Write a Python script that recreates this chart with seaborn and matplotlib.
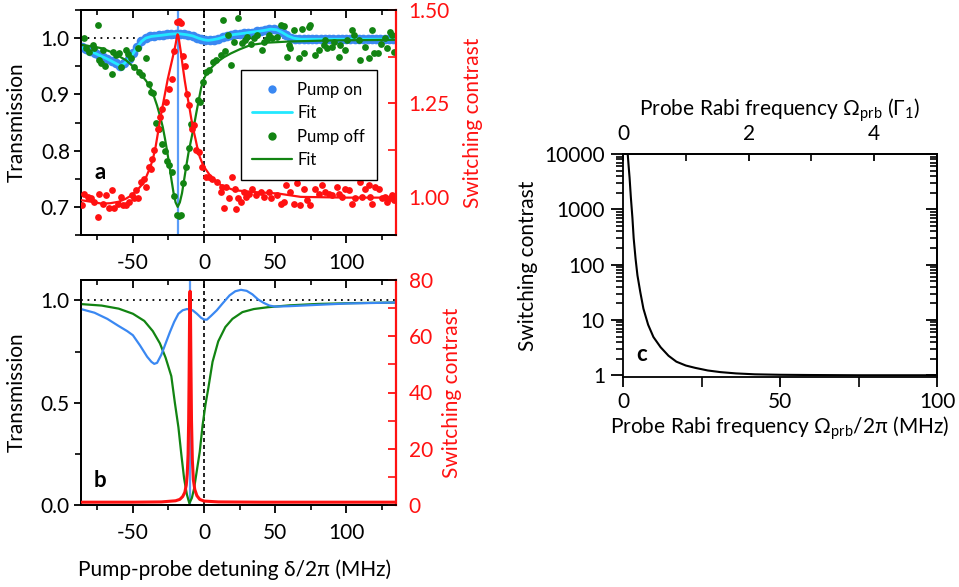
import matplotlib
matplotlib.use("Agg")
import matplotlib.pyplot as plt
import seaborn as sns
from matplotlib.lines import Line2D
from matplotlib.ticker import (MultipleLocator, LogLocator, FuncFormatter,
                               NullFormatter, FormatStrFormatter, FixedLocator)

# ---------------- measured data (panel a) ----------------
# Pump on: transmission points and fit
on_x = [-86, -83, -80, -77, -74, -71, -68, -65, -62, -59, -56, -53, -50, -47, -44,
        -41, -38, -35, -32, -29, -26, -23, -20, -17, -14, -11, -8, -5, -2, 1, 4, 7,
        10, 13, 16, 19, 22, 25, 28, 31, 34, 37, 40, 43, 46, 49, 52, 55, 58, 61, 64,
        67, 70, 73, 76, 79, 82, 85, 88, 91, 94, 97, 100, 103, 106, 109, 112, 115,
        118, 121, 124, 127, 130, 133]
on_t = [0.984, 0.980, 0.978, 0.973, 0.970, 0.966, 0.963, 0.959, 0.955, 0.951, 0.956,
        0.963, 0.973, 0.985, 0.995, 1.000, 1.003, 1.004, 1.006, 1.006, 1.007, 1.008,
        1.008, 1.008, 1.007, 1.005, 1.003, 1.000, 0.998, 0.996, 0.996, 0.997, 0.999,
        1.002, 1.004, 1.006, 1.007, 1.008, 1.009, 1.010, 1.010, 1.012, 1.013, 1.014,
        1.016, 1.016, 1.015, 1.011, 1.005, 1.001, 0.999, 0.998, 0.999, 0.998, 0.998,
        0.999, 0.998, 0.998, 0.999, 0.998, 0.998, 0.999, 0.998, 0.998, 0.999, 0.998,
        0.998, 0.999, 0.998, 0.998, 0.999, 0.998, 0.998, 0.999]
on_fit_x = [-86, -80, -74, -68, -62, -59, -56, -53, -50, -47, -44, -41, -37, -30, -24,
            -18, -12, -8, -4, 0, 3, 6, 10, 15, 20, 26, 32, 38, 43, 47, 51, 55, 59, 63,
            68, 80, 100, 135]
on_fit_t = [0.983, 0.977, 0.970, 0.963, 0.955, 0.951, 0.955, 0.962, 0.972, 0.984,
            0.994, 1.000, 1.003, 1.005, 1.007, 1.008, 1.006, 1.004, 1.000, 0.997,
            0.996, 0.997, 0.999, 1.003, 1.006, 1.008, 1.010, 1.012, 1.014, 1.016,
            1.015, 1.010, 1.004, 1.000, 0.998, 0.998, 0.998, 0.998]

# Pump off: transmission points and fit
off_x = [-84.5, -83.0, -81.1, -78.3, -77.1, -74.8, -73.6, -72.5, -70.8, -69.4,
         -65.0, -64.3, -61.9, -59.6, -58.4, -54.9, -53.1, -51.4, -49.1, -46.6,
         -45.6, -43.3, -41.0, -38.6, -37.4, -35.8, -33.6, -31.5, -29.5, -27.5,
         -26.0, -24.3, -22.6, -21.0, -18.9, -17.8, -16.3, -15.0, -12.6, -10.7,
         -9.1, -8.3, -4.4, -3.0, -0.9, 1.4, 3.7, 6.1, 8.4, 11.7,
         13.0, 14.5, 16.6, 19.2, 21.0, 24.0, 26.9, 28.5, 30.4, 33.0,
         35.1, 37.5, 40.9, 42.1, 44.5, 46.0, 47.9, 51.4, 53.8, 56.1,
         58.4, 59.6, 60.8, 63.1, 66.6, 68.9, 70.1, 73.6, 74.8, 78.3,
         80.6, 84.2, 85.3, 86.5, 90.0, 91.2, 94.7, 95.9, 99.4, 100.5,
         104.0, 105.2, 108.7, 109.9, 113.0, 115.7, 118.0, 119.2, 122.2, 124.5,
         127.4, 129.0, 130.9, 132.1, 133.5]
off_t = [1.001, 0.982, 0.976, 0.988, 0.983, 1.023, 0.961, 0.955, 0.979, 0.950,
         0.936, 0.976, 0.970, 0.973, 0.949, 0.979, 0.971, 0.964, 0.949, 0.982,
         0.940, 0.934, 0.964, 0.918, 0.905, 0.902, 0.850, 0.838, 0.812, 0.800,
         0.781, 0.774, 0.762, 0.720, 0.686, 0.684, 0.686, 0.742, 0.771, 0.804,
         0.848, 0.843, 0.890, 0.886, 0.922, 0.940, 0.943, 0.958, 0.961, 0.970,
         1.032, 0.977, 1.005, 0.952, 0.993, 1.036, 0.991, 0.996, 1.002, 0.990,
         1.000, 1.005, 0.979, 0.993, 0.998, 1.006, 1.000, 1.002, 1.023, 1.021,
         0.967, 0.988, 0.982, 1.014, 0.964, 1.017, 0.973, 1.020, 1.023, 0.970,
         0.979, 0.988, 0.996, 0.982, 0.985, 0.993, 0.967, 0.988, 0.979, 0.996,
         1.014, 1.005, 0.996, 0.961, 0.985, 0.964, 1.014, 0.973, 0.973, 0.990,
         1.000, 0.982, 1.011, 1.005, 0.976]
off_fit_x = [-86, -78, -72, -66, -60, -55, -51, -47, -44, -41, -38, -35, -33, -31,
             -29, -27.5, -26, -24.5, -23, -21.5, -20, -18.5, -17, -15.5, -14, -12.5,
             -11, -9, -7, -5.5, -4, -2, 0, 2.5, 5, 9.5, 14, 19, 25, 33, 45, 60, 90,
             135]
off_fit_t = [0.988, 0.985, 0.982, 0.976, 0.968, 0.961, 0.952, 0.944, 0.934, 0.925,
             0.914, 0.895, 0.880, 0.862, 0.842, 0.822, 0.800, 0.776, 0.750, 0.726,
             0.708, 0.700, 0.708, 0.724, 0.748, 0.772, 0.795, 0.820, 0.845, 0.866,
             0.886, 0.912, 0.928, 0.940, 0.947, 0.958, 0.966, 0.973, 0.980, 0.988,
             0.992, 0.994, 0.996, 0.997]

# Switching contrast: points and fit
con_x = [-85.5, -84.1, -81.8, -79.5, -77.1, -74.8, -73.6, -71.3, -69.0, -66.6,
         -64.7, -63.1, -60.8, -58.4, -57.3, -54.9, -52.6, -50.7, -49.1, -47.9,
         -46.1, -44.4, -42.1, -40.9, -38.6, -37.5, -36.3, -35.1, -32.7, -31.0,
         -29.2, -26.9, -24.5, -22.7, -21.0, -18.7, -17.5, -16.3, -14.7, -13.3,
         -11.7, -10.5, -8.6, -7.0, -5.4, -3.5, -1.2, 1.2, 3.5, 5.8,
         9.3, 11.7, 12.8, 14.0, 15.2, 17.5, 19.4, 21.7, 22.8, 23.6,
         25.7, 28.0, 29.2, 31.6, 33.9, 36.3, 39.8, 42.1, 45.6, 46.8,
         51.4, 53.8, 56.1, 57.3, 60.8, 63.1, 65.4, 67.8, 70.1, 72.4,
         74.8, 78.3, 80.6, 83.0, 85.3, 87.7, 90.0, 93.5, 94.7, 97.0,
         99.4, 101.7, 104.0, 106.4, 109.9, 111.1, 113.4, 115.7, 116.9, 118.0,
         120.4, 122.7, 125.0, 127.4, 128.5, 130.9, 132.1, 133.3]
con_c = [0.978, 1.009, 1.000, 0.996, 0.987, 0.947, 1.009, 0.982, 1.004, 0.969,
         1.018, 0.969, 0.982, 1.000, 0.978, 0.978, 0.987, 1.004, 0.996, 1.018,
         0.996, 1.040, 1.049, 1.027, 1.080, 1.075, 1.102, 1.125, 1.182, 1.215,
         1.236, 1.253, 1.289, 1.316, 1.391, 1.467, 1.470, 1.465, 1.378, 1.351,
         1.276, 1.245, 1.182, 1.191, 1.125, 1.120, 1.080, 1.053, 1.053, 1.049,
         1.040, 1.013, 1.027, 0.969, 1.027, 0.996, 1.053, 1.022, 0.968, 0.996,
         0.987, 1.013, 1.000, 1.009, 1.022, 1.004, 1.013, 1.000, 1.013, 0.996,
         1.004, 0.982, 0.987, 1.031, 1.013, 0.982, 1.036, 0.978, 1.022, 0.991,
         0.978, 1.022, 1.009, 1.031, 1.013, 1.009, 1.004, 1.027, 1.009, 1.000,
         1.022, 1.018, 0.982, 0.996, 1.040, 1.000, 1.022, 1.031, 1.000, 0.982,
         1.027, 1.022, 0.996, 1.000, 0.987, 0.996, 1.004, 0.991]
con_fit_x = [-86, -78, -72, -66, -60, -55, -51, -47, -44, -41, -38, -36, -34, -32,
             -30, -28.5, -27, -25.5, -24, -22.5, -21, -20, -19.2, -18.6, -18, -17,
             -16, -15, -13.5, -12, -10.5, -9, -7.5, -6, -4.5, -3, -1, 1, 5, 12, 21,
             35, 52, 68, 100, 135]
con_fit_c = [0.991, 0.986, 0.982, 0.983, 0.987, 0.995, 1.004, 1.018, 1.031, 1.050,
             1.078, 1.100, 1.135, 1.180, 1.225, 1.255, 1.285, 1.315, 1.340, 1.365,
             1.390, 1.408, 1.425, 1.435, 1.430, 1.405, 1.380, 1.350, 1.310, 1.275,
             1.245, 1.210, 1.180, 1.155, 1.128, 1.107, 1.088, 1.075, 1.053, 1.031,
             1.018, 1.013, 1.009, 1.000, 0.998, 0.998]
pump_a = -18.0   # pump-probe detuning marked in panel a (MHz)

# ---------------- model curves (panel b) ----------------
b_on_x = [-86, -77, -68, -60, -54, -50, -45, -40, -37, -35, -33, -30, -27, -24, -21,
          -18, -15, -12, -10, -8, -5, -2, 0, 2, 5, 9, 13, 18, 22, 26, 30, 34, 38,
          42, 46, 50, 60, 75, 100, 135]
b_on_t = [0.957, 0.940, 0.910, 0.875, 0.850, 0.830, 0.780, 0.725, 0.700, 0.690,
          0.695, 0.735, 0.790, 0.845, 0.895, 0.935, 0.952, 0.958, 0.956, 0.952,
          0.935, 0.915, 0.907, 0.906, 0.925, 0.952, 0.985, 1.025, 1.045, 1.052,
          1.047, 1.030, 1.005, 0.988, 0.975, 0.970, 0.972, 0.977, 0.985, 0.990]
b_off_x = [-86, -72, -60, -50, -42, -36, -31, -27, -23, -20.5, -18, -16, -14, -12,
           -10.3, -8.5, -7, -5, -3, -1, 1, 3, 6, 10, 15, 20, 27, 35, 45, 60, 80,
           105, 135]
b_off_t = [0.982, 0.975, 0.960, 0.935, 0.900, 0.850, 0.790, 0.720, 0.630, 0.500,
           0.380, 0.250, 0.130, 0.050, 0.008, 0.035, 0.080, 0.170, 0.260, 0.390,
           0.490, 0.570, 0.700, 0.800, 0.870, 0.910, 0.943, 0.958, 0.967, 0.976,
           0.983, 0.987, 0.990]
b_con_x = [-86, -50, -30, -20, -17, -15, -13.5, -12.5, -11.8, -11.2, -10.8, -10.5,
           -10.2, -10.0, -9.8, -9.5, -9.2, -8.8, -8.2, -7.5, -6.5, -5, -3, 0, 10,
           40, 135]
b_con_c = [1.0, 1.0, 1.1, 1.5, 2.0, 3.0, 4.5, 7.0, 11, 18, 30, 45, 64, 74, 76, 68,
           50, 30, 16, 9.0, 5.5, 3.3, 2.0, 1.4, 1.1, 1.0, 1.0]
pump_b = -10.0

# ---------------- contrast vs probe Rabi frequency (panel c) ----------------
c_omega = [1.2, 1.5, 1.8, 2.1, 2.5, 3.0, 3.4, 4.0, 4.6, 5.5, 6.5, 8.0, 9.7, 12,
           14.5, 17, 20, 23, 27, 31, 36, 42, 50, 60, 75, 100]
c_contrast = [25000, 10000, 6000, 3700, 1650, 700, 300, 128, 64, 32, 16, 8.2, 4.9,
              3.2, 2.25, 1.76, 1.5, 1.36, 1.22, 1.14, 1.08, 1.04, 1.02, 1.01, 1.0, 1.0]
gamma1 = 20.0  # Gamma_1 / 2pi in MHz
gamma_ticks = [0, 2, 4]
gamma_minor = [1, 3, 5]

# ---------------- style ----------------
GREEN = "#128412"
RED = "#ff1111"
BLUE = "#3a88f2"
CYAN = "#22e8ff"
PUMP_LINE = "#5a9cf8"
FS = 15

sns.set_theme(style="ticks")
plt.rcParams.update({
    "font.family": ["Lato", "DejaVu Sans"],
    "mathtext.fontset": "custom",
    "mathtext.rm": "Lato",
    "mathtext.it": "Lato:italic",
    "mathtext.bf": "Lato:bold",
    "axes.unicode_minus": False,
    "axes.edgecolor": "black",
    "axes.labelcolor": "black",
    "text.color": "black",
    "xtick.color": "black",
    "ytick.color": "black",
    "axes.linewidth": 1.3,
    "xtick.major.width": 1.3, "ytick.major.width": 1.3,
    "xtick.minor.width": 1.2, "ytick.minor.width": 1.2,
    "font.size": FS, "axes.labelsize": FS,
    "xtick.labelsize": FS, "ytick.labelsize": FS,
})

W, H = 959, 587
fig = plt.figure(figsize=(W / 100, H / 100), dpi=100)


def rect(l, t, r, b):
    return [l / W, 1 - b / H, (r - l) / W, (b - t) / H]


ax_a = fig.add_axes(rect(81, 10, 396, 235))
ax_b = fig.add_axes(rect(81, 280, 396, 505))
ax_c = fig.add_axes(rect(623, 154, 937, 377))


def detuning_frame(ax, ylo, yhi, ymaj, ymin, yfmt):
    ax.set_xlim(-86.5, 135)
    ax.set_ylim(ylo, yhi)
    ax.xaxis.set_major_locator(MultipleLocator(50))
    ax.xaxis.set_minor_locator(MultipleLocator(25))
    ax.yaxis.set_major_locator(MultipleLocator(ymaj))
    ax.yaxis.set_minor_locator(MultipleLocator(ymin))
    ax.yaxis.set_major_formatter(FormatStrFormatter(yfmt))
    ax.tick_params(axis="x", which="both", direction="out", bottom=True, top=False)
    ax.tick_params(axis="x", which="major", length=6, pad=7)
    ax.tick_params(axis="x", which="minor", length=3.5)
    ax.tick_params(axis="y", which="both", direction="out", left=True, right=False)
    ax.tick_params(axis="y", which="major", length=5, pad=3)
    ax.tick_params(axis="y", which="minor", length=4)
    ax.spines["right"].set_visible(False)
    top = ax.secondary_xaxis("top")
    top.xaxis.set_major_locator(MultipleLocator(50))
    top.xaxis.set_minor_locator(MultipleLocator(25))
    top.xaxis.set_major_formatter(NullFormatter())
    top.tick_params(axis="x", which="both", direction="in")
    top.tick_params(axis="x", which="major", length=6)
    top.tick_params(axis="x", which="minor", length=3.5)
    ax.axhline(1.0, color="black", ls=(0, (1, 2.6)), lw=1.3, zorder=1)
    ax.axvline(0.0, color="black", ls=(0, (2.4, 1.8)), lw=1.2, zorder=1)
    ax.set_ylabel("Transmission", va="center")
    ax.yaxis.set_label_coords(-0.203, 0.5)


def contrast_twin(ax, ylo, yhi, ymaj, ymin, yfmt, xlab):
    tw = ax.twinx()
    tw.set_ylim(ylo, yhi)
    tw.yaxis.set_major_locator(MultipleLocator(ymaj))
    tw.yaxis.set_minor_locator(MultipleLocator(ymin))
    tw.yaxis.set_major_formatter(FormatStrFormatter(yfmt))
    tw.spines["right"].set_color(RED)
    tw.spines["right"].set_linewidth(1.6)
    tw.tick_params(axis="y", which="both", direction="in", colors=RED, right=True)
    tw.tick_params(axis="y", which="major", length=6, pad=9)
    tw.tick_params(axis="y", which="minor", length=6)
    tw.set_ylabel("Switching contrast", color=RED, va="center", rotation=90)
    tw.yaxis.set_label_coords(xlab, 0.5)
    return tw


# ---------------- panel a ----------------
detuning_frame(ax_a, 0.65, 1.05, 0.1, 0.05, "%.1f")
ax_a.axvline(pump_a, color=PUMP_LINE, lw=1.6, zorder=1.5)
sns.scatterplot(x=on_x, y=on_t, ax=ax_a, color=BLUE, s=48, linewidth=0,
                zorder=3, legend=False)
sns.lineplot(x=on_fit_x, y=on_fit_t, ax=ax_a, color=CYAN, lw=2.0, zorder=4)
sns.scatterplot(x=off_x, y=off_t, ax=ax_a, color=GREEN, s=24, linewidth=0,
                zorder=5, legend=False)
sns.lineplot(x=off_fit_x, y=off_fit_t, ax=ax_a, color=GREEN, lw=1.6, zorder=6)
ax_a.set_xlabel("")
ax_a.text(0.06, 0.276, "a", transform=ax_a.transAxes, fontsize=16,
          fontweight="bold", ha="center", va="center")

ax_a2 = contrast_twin(ax_a, 0.898, 1.50, 0.25, 0.125, "%.2f", 1.244)
sns.scatterplot(x=con_x, y=con_c, ax=ax_a2, color=RED, s=24, linewidth=0,
                zorder=3, legend=False)
sns.lineplot(x=con_fit_x, y=con_fit_c, ax=ax_a2, color=RED, lw=1.6, zorder=4)

handles = [
    Line2D([], [], ls="none", marker="o", markersize=6, color=BLUE, mew=0),
    Line2D([], [], color=CYAN, lw=2.0),
    Line2D([], [], ls="none", marker="o", markersize=6, color=GREEN, mew=0),
    Line2D([], [], color=GREEN, lw=1.6),
]
leg = ax_a2.legend(handles, ["Pump on", "Fit", "Pump off", "Fit"],
                   loc="upper left", bbox_to_anchor=(0.507, 0.733),
                   borderaxespad=0, fontsize=12, handlelength=2.4,
                   handletextpad=0.3, labelspacing=0.45, borderpad=0.7,
                   frameon=True, fancybox=False, framealpha=1,
                   edgecolor="black")
leg.get_frame().set_linewidth(1.0)

# ---------------- panel b ----------------
detuning_frame(ax_b, 0.0, 1.1, 0.5, 0.25, "%.1f")
ax_b.axvline(pump_b, color=PUMP_LINE, lw=1.6, zorder=1.5)
sns.lineplot(x=b_off_x, y=b_off_t, ax=ax_b, color=GREEN, lw=1.6, zorder=3)
sns.lineplot(x=b_on_x, y=b_on_t, ax=ax_b, color=BLUE, lw=1.6, zorder=4)
ax_b.set_xlabel("Pump-probe detuning δ/2π (MHz)", va="center")
ax_b.xaxis.set_label_coords(0.487, -0.289)
ax_b.text(0.06, 0.111, "b", transform=ax_b.transAxes, fontsize=16,
          fontweight="bold", ha="center", va="center")

ax_b2 = contrast_twin(ax_b, 0, 80, 20, 10, "%d", 1.178)
sns.lineplot(x=b_con_x, y=b_con_c, ax=ax_b2, color=RED, lw=2.2, zorder=4)

# ---------------- panel c ----------------
ax_c.set_yscale("log")
sns.lineplot(x=c_omega, y=c_contrast, ax=ax_c, color="black", lw=1.5)
ax_c.set_xlim(0, 100)
ax_c.set_ylim(0.93, 10000)
ax_c.xaxis.set_major_locator(MultipleLocator(50))
ax_c.xaxis.set_minor_locator(MultipleLocator(25))
ax_c.tick_params(axis="x", which="both", direction="out", length=7, pad=4,
                 bottom=True, top=False)
ax_c.yaxis.set_major_locator(LogLocator(base=10, numticks=10))
ax_c.yaxis.set_minor_locator(LogLocator(base=10, subs=range(2, 10), numticks=20))
ax_c.yaxis.set_major_formatter(FuncFormatter(lambda v, p: f"{v:g}"))
ax_c.yaxis.set_minor_formatter(NullFormatter())
ax_c.tick_params(axis="y", which="major", direction="out", length=9, pad=4,
                 left=True, right=False)
ax_c.tick_params(axis="y", which="minor", direction="out", length=5,
                 left=True, right=False)

right = ax_c.secondary_yaxis("right")
right.yaxis.set_major_locator(LogLocator(base=10, numticks=10))
right.yaxis.set_minor_locator(LogLocator(base=10, subs=range(2, 10), numticks=20))
right.yaxis.set_major_formatter(NullFormatter())
right.yaxis.set_minor_formatter(NullFormatter())
right.tick_params(axis="y", which="major", direction="in", length=8)
right.tick_params(axis="y", which="minor", direction="in", length=5)

top_c = ax_c.secondary_xaxis("top", functions=(lambda x: x / gamma1,
                                                lambda g: g * gamma1))
top_c.xaxis.set_major_locator(FixedLocator(gamma_ticks))
top_c.xaxis.set_minor_locator(FixedLocator(gamma_minor))
top_c.xaxis.set_major_formatter(FuncFormatter(lambda v, p: f"{v:g}"))
top_c.tick_params(axis="x", which="both", direction="in", length=5, pad=7)
top_c.set_xlabel("Probe Rabi frequency Ω$_{\\mathrm{prb}}$ (Γ$_{1}$)", labelpad=6)

ax_c.set_xlabel("Probe Rabi frequency Ω$_{\\mathrm{prb}}$/2π (MHz)", va="center")
ax_c.xaxis.set_label_coords(0.5, -0.229)
ax_c.set_ylabel("Switching contrast", va="center")
ax_c.yaxis.set_label_coords(-0.3025, 0.5)
ax_c.text(0.06, 0.099, "c", transform=ax_c.transAxes, fontsize=16,
          fontweight="bold", ha="center", va="center")

fig.savefig("out.png", dpi=100)
